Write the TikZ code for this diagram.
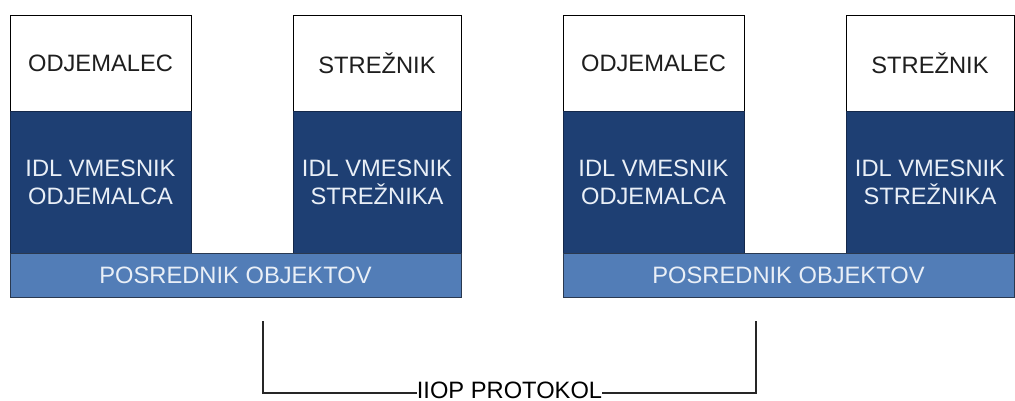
\documentclass[tikz,border=0pt]{standalone}
\usepackage{fontspec}
\setmainfont{Liberation Sans}
\definecolor{idlblue}{HTML}{1E3F73}
\definecolor{idledge}{HTML}{14284A}
\definecolor{orbblue}{HTML}{527DB7}
\definecolor{orbedge}{HTML}{2A3950}
\definecolor{lighttext}{HTML}{E9EFF7}
\definecolor{darktext}{HTML}{1E1E1E}
\begin{document}
\begin{tikzpicture}[x=1pt,y=-1pt,
  every node/.style={font=\fontsize{23.7}{28}\selectfont, inner sep=0pt, outer sep=0pt, align=center},
  appbox/.style={draw=black, line width=0.9pt, fill=white, text=darktext},
  idlbox/.style={draw=idledge, line width=0.9pt, fill=idlblue, text=lighttext},
  orbbar/.style={draw=orbedge, line width=0.9pt, fill=orbblue, text=lighttext},
  wire/.style={draw=black!85, line width=1.1pt}]
\useasboundingbox (0,0) rectangle (1015,401);

% two identical ORB stacks, the second shifted to the right
\foreach \p/\dx in {a/0, b/553} {
  \begin{scope}[xshift=\dx pt]
    \node[appbox, minimum width=181pt, minimum height=96pt] (\p cli) at (100.5,63) {ODJEMALEC};
    \node[idlbox, minimum width=181pt, minimum height=142pt] (\p stub) at (100.5,182) {IDL VMESNIK\\ODJEMALCA};
    \node[appbox, minimum width=168pt, minimum height=96pt] (\p srv) at (377,63) {STREŽNIK};
    \node[idlbox, minimum width=168pt, minimum height=142pt] (\p skel) at (377,182) {IDL VMESNIK\\STREŽNIKA};
    \node[orbbar, minimum width=451pt, minimum height=44pt] (\p orb) at (235.5,275) {POSREDNIK OBJEKTOV};
  \end{scope}
}

% IIOP link between the two brokers
\node[anchor=base] (iiop) at (509.5,398) {IIOP PROTOKOL};
\coordinate (ltop) at (263,321);
\coordinate (lbot) at (263,393);
\coordinate (rtop) at (756,321);
\coordinate (rbot) at (756,393);
\draw[wire] (ltop) -- (lbot) -- (iiop.west |- lbot);
\draw[wire] (rtop) -- (rbot) -- (iiop.east |- rbot);
\end{tikzpicture}
\end{document}
